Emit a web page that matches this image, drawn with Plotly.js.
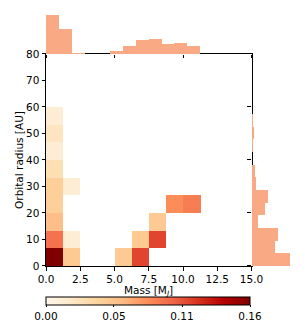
<!DOCTYPE html>
<html>
<head>
<meta charset="utf-8">
<script src="https://cdn.plot.ly/plotly-3.0.1.min.js"></script>
<style>html,body{margin:0;padding:0;background:#fff;}#chart{width:305px;height:321px;}</style>
</head>
<body>
<div id="chart"></div>
<script>
// 2D histogram (density) : mass bins (x) and orbital radius bins (y)
var massBinCenters = [0.625, 1.875, 3.125, 4.375, 5.625, 6.875, 8.125, 9.375, 10.625, 11.875, 13.125, 14.375];
var radiusBinCenters = [3.333, 10, 16.667, 23.333, 30, 36.667, 43.333, 50, 56.667];
var densityGrid = [
  [0.160, 0.048, null, null, 0.048, 0.112, null, null, null, null, null, null],
  [0.093, 0.013, null, null, null, 0.048, 0.112, null, null, null, null, null],
  [0.058, null, null, null, null, null, 0.048, null, null, null, null, null],
  [0.043, null, null, null, null, null, null, 0.080, 0.088, null, null, null],
  [0.043, 0.013, null, null, null, null, null, null, null, null, null, null],
  [0.030, null, null, null, null, null, null, null, null, null, null, null],
  [0.013, null, null, null, null, null, null, null, null, null, null, null],
  [0.024, null, null, null, null, null, null, null, null, null, null, null],
  [0.013, null, null, null, null, null, null, null, null, null, null, null]
];
// marginal histogram of mass (top)
var massHistCenters = [0.469, 1.406, 2.344, 3.281, 4.219, 5.156, 6.094, 7.031, 7.969, 8.906, 9.844, 10.781];
var massHistValues = [38, 24, 1, 0, 0, 3.3, 8, 13.3, 14.7, 9.3, 10.3, 8];
// marginal histogram of orbital radius (right)
var radiusHistCenters = [2.39, 7.17, 11.95, 16.73, 21.51, 26.29, 31.07, 35.85, 40.63, 45.41, 50.19, 54.97];
var radiusHistValues = [37.5, 22.5, 26, 6.8, 13, 16.5, 4.8, 3.5, 0, 1, 2.3, 1];
// colorbar ticks
var cbTickVals = [0, 0.0533, 0.1067, 0.16];
var cbTickText = ['0.00', '0.05', '0.11', '0.16'];

var OrRd = [
  [0, '#fff7ec'], [0.125, '#fee8c8'], [0.25, '#fdd49e'], [0.375, '#fdbb84'],
  [0.5, '#fc8d59'], [0.625, '#ef6548'], [0.75, '#d7301f'], [0.875, '#b30000'], [1, '#7f0000']
];
var histColor = 'rgb(249,170,132)';
var font = {family: 'DejaVu Sans', size: 10.5, color: '#000'};

var traces = [
  {
    type: 'heatmap', x: massBinCenters, y: radiusBinCenters, z: densityGrid,
    colorscale: OrRd, zmin: 0, zmax: 0.16, xaxis: 'x', yaxis: 'y',
    hoverongaps: false,
    colorbar: {
      orientation: 'h', x: 0, xanchor: 'left', y: -0.1225, yanchor: 'top',
      lenmode: 'pixels', len: 204, thickness: 7.5, xpad: 0, ypad: 0,
      outlinewidth: 1, outlinecolor: '#000',
      tickvals: cbTickVals, ticktext: cbTickText, ticks: 'outside', ticklen: 2,
      tickcolor: '#000', tickfont: font
    }
  },
  {
    type: 'bar', x: massHistCenters, y: massHistValues, width: 0.9375,
    marker: {color: histColor, line: {width: 0}}, xaxis: 'x2', yaxis: 'y2'
  },
  {
    type: 'bar', orientation: 'h', y: radiusHistCenters, x: radiusHistValues, width: 4.78,
    marker: {color: histColor, line: {width: 0}}, xaxis: 'x3', yaxis: 'y3'
  }
];

var layout = {
  width: 305, height: 321,
  margin: {l: 46, r: 13, t: 13, b: 55, autoexpand: false},
  paper_bgcolor: '#fff', plot_bgcolor: 'rgba(0,0,0,0)',
  showlegend: false, font: font, bargap: 0,
  xaxis: {
    domain: [0, 0.8354], range: [0, 15], dtick: 2.5, tick0: 0, tickformat: '.1f',
    showline: true, mirror: true, linecolor: '#000', linewidth: 1,
    ticks: 'outside', ticklen: 3.5, tickcolor: '#000', showgrid: false, zeroline: false,
    automargin: false, ticklabelstandoff: 0, tickfont: font
  },
  yaxis: {
    domain: [0, 0.838], range: [0, 80], dtick: 10,
    showline: true, mirror: true, linecolor: '#000', linewidth: 1,
    ticks: 'outside', ticklen: 3.5, tickcolor: '#000', showgrid: false, zeroline: false,
    automargin: false,
    tickfont: font, title: {text: 'Orbital radius [AU]', font: font, standoff: 0}
  },
  xaxis2: {
    domain: [0, 0.8354], matches: 'x', anchor: 'y2', showticklabels: false,
    ticks: 'outside', ticklen: 3.5, tickcolor: '#000', showline: false, showgrid: false, zeroline: false
  },
  yaxis2: {domain: [0.838, 1], range: [0, 39.9], visible: false, anchor: 'x2'},
  xaxis3: {domain: [0.8354, 1], range: [0, 39.4], visible: false, anchor: 'y3'},
  yaxis3: {
    domain: [0, 0.838], matches: 'y', anchor: 'x3', showticklabels: false,
    ticks: 'outside', ticklen: 3.5, tickcolor: '#000', showline: false, showgrid: false, zeroline: false
  },
  annotations: [{
    text: 'Mass [M<sub><i>J</i></sub>]', xref: 'paper', yref: 'paper',
    x: 0.8354 / 2, y: -0.097, xanchor: 'center', yanchor: 'middle',
    showarrow: false, font: font
  }]
};

Plotly.newPlot('chart', traces, layout, {staticPlot: true, displayModeBar: false});
</script>
</body>
</html>
